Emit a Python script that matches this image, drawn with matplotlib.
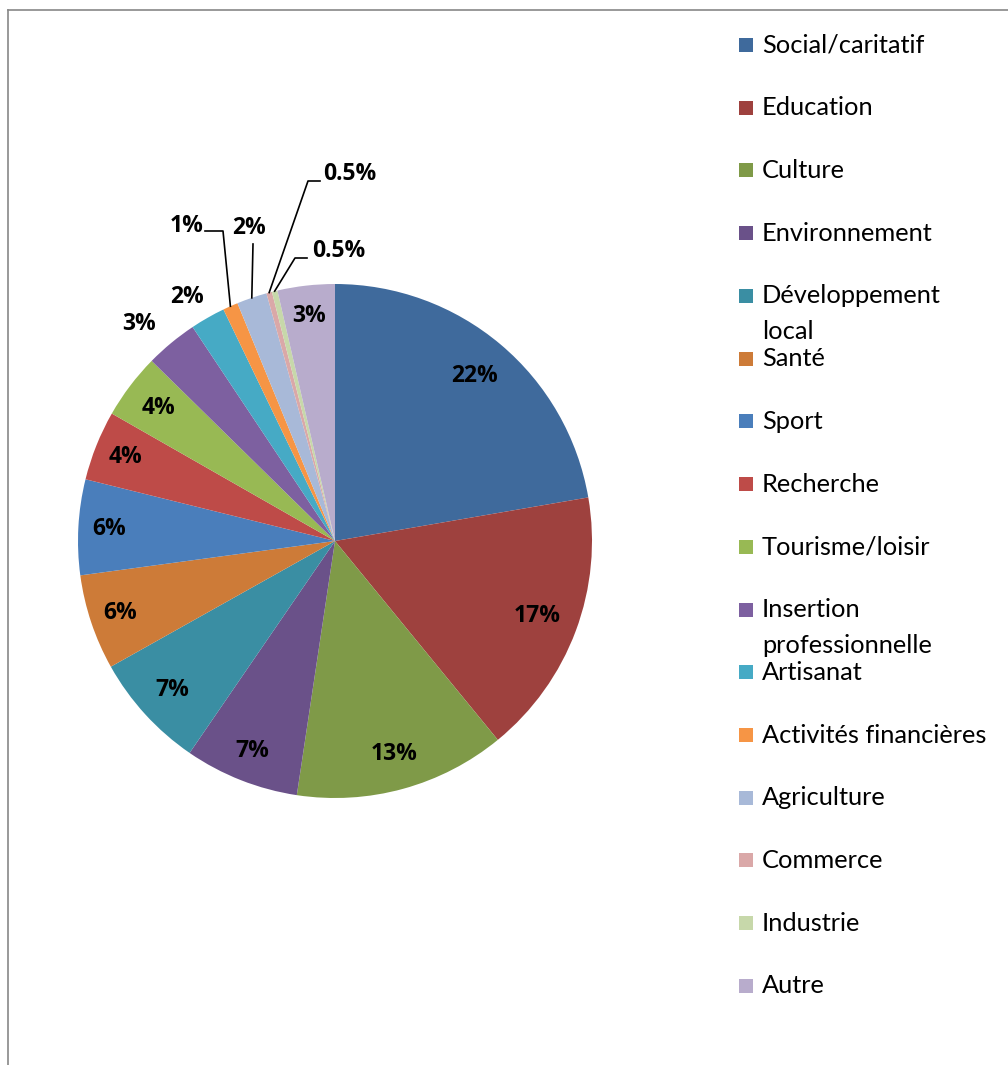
import numpy as np
import matplotlib
matplotlib.use("Agg")
import matplotlib.pyplot as plt
from matplotlib.lines import Line2D
from matplotlib.patches import Rectangle

# Data
categories = ["Social/caritatif", "Education", "Culture", "Environnement",
              "Développement local", "Santé", "Sport", "Recherche",
              "Tourisme/loisir", "Insertion professionnelle", "Artisanat",
              "Activités financières", "Agriculture", "Commerce", "Industrie", "Autre"]
legend_lines = [["Social/caritatif"], ["Education"], ["Culture"], ["Environnement"],
                ["Développement", "local"], ["Santé"], ["Sport"], ["Recherche"],
                ["Tourisme/loisir"], ["Insertion", "professionnelle"], ["Artisanat"],
                ["Activités financières"], ["Agriculture"], ["Commerce"], ["Industrie"], ["Autre"]]
shares = [22.3, 16.8, 13.3, 7.2, 7.3, 6.0, 6.0, 4.4, 4.1, 3.3, 2.2, 0.95, 1.9, 0.35, 0.35, 3.6]
pct_labels = ["22%", "17%", "13%", "7%", "7%", "6%", "6%", "4%", "4%", "3%", "2%",
              "1%", "2%", "0.5%", "0.5%", "3%"]
colors = ["#3F6A9C", "#9E413E", "#7F9A48", "#6A5189", "#3A8EA3", "#CD7B38",
          "#4A7EBB", "#BE4B48", "#98B954", "#7D60A0", "#46AAC5", "#F69545",
          "#A8B9D8", "#DAA8A8", "#C7D8AA", "#B8ACCC"]

W, H = 1008, 1065
CX, CY, R = 335, 541, 257


def px(x, y):
    # pixel position -> data coords (pie radius = 1)
    return (x - CX) / R, (CY - y) / R


fig = plt.figure(figsize=(W / 100, H / 100), dpi=100)
ax = fig.add_axes([0, 0, 1, 1])

wedges, _ = ax.pie(shares, colors=colors, startangle=90, counterclock=False,
                   radius=1, center=(0, 0), wedgeprops=dict(linewidth=0))

ax.set_xlim(px(0, 0)[0], px(W, 0)[0])
ax.set_ylim(px(0, H)[1], px(0, 0)[1])
ax.set_aspect("equal")
ax.axis("off")

FONT = "Lato"
BOLD = "Open Sans"
PCT_SIZE = 16.5

# label radius (fraction of pie radius); None -> leader-line label
label_r = [0.84, 0.84, 0.86, 0.88, 0.86, 0.88, 0.88, 0.88, 0.86, 1.14, 1.11,
           None, None, None, None, 0.88]
# small angular nudge (degrees) for outside labels
label_shift = [0, 0, 0, 0, 0, 0, 0, 0, 0, 2.5, 1.5, 0, 0, 0, 0, 0]
# leader labels: text centre, start and knee of leader (pixels)
leaders = {
    11: ((187, 226), (205, 231), (223, 231)),
    12: ((249, 228), (253, 244), (253, 244)),
    13: ((350, 174), (320, 181), (308, 181)),
    14: ((339, 251), (307, 258), (295, 258)),
}

for i, w in enumerate(wedges):
    mid = np.deg2rad((w.theta1 + w.theta2) / 2)
    if label_r[i] is not None:
        r = label_r[i]
        a = mid + np.deg2rad(label_shift[i])
        ax.text(r * np.cos(a), r * np.sin(a), pct_labels[i], ha="center", va="center",
                fontsize=PCT_SIZE, fontweight="bold", family=BOLD)
    else:
        (tx, ty), start, knee = leaders[i]
        ex, ey = np.cos(mid), np.sin(mid)
        x0, y0 = px(*start)
        x1, y1 = px(*knee)
        ax.plot([x0, x1, ex], [y0, y1, ey], color="black", lw=1.2)
        ax.text(*px(tx, ty), pct_labels[i], ha="center", va="center",
                fontsize=PCT_SIZE, fontweight="bold", family=BOLD)

# legend
for i, lines in enumerate(legend_lines):
    y = 45 + i * 62.73
    x0, y0 = px(739, y + 7)
    ax.add_patch(Rectangle((x0, y0), 14 / R, 14 / R, color=colors[i], lw=0))
    for j, t in enumerate(lines):
        ax.text(*px(762, y + j * 36), t, ha="left", va="center", fontsize=18.3, family=FONT)

# chart border
fig.add_artist(Line2D([8 / W, 8 / W], [0, 1 - 10 / H], color="#888888", lw=1.2))
fig.add_artist(Line2D([8 / W, 1], [1 - 10 / H, 1 - 10 / H], color="#888888", lw=1.2))

fig.savefig("out.png", dpi=100)
